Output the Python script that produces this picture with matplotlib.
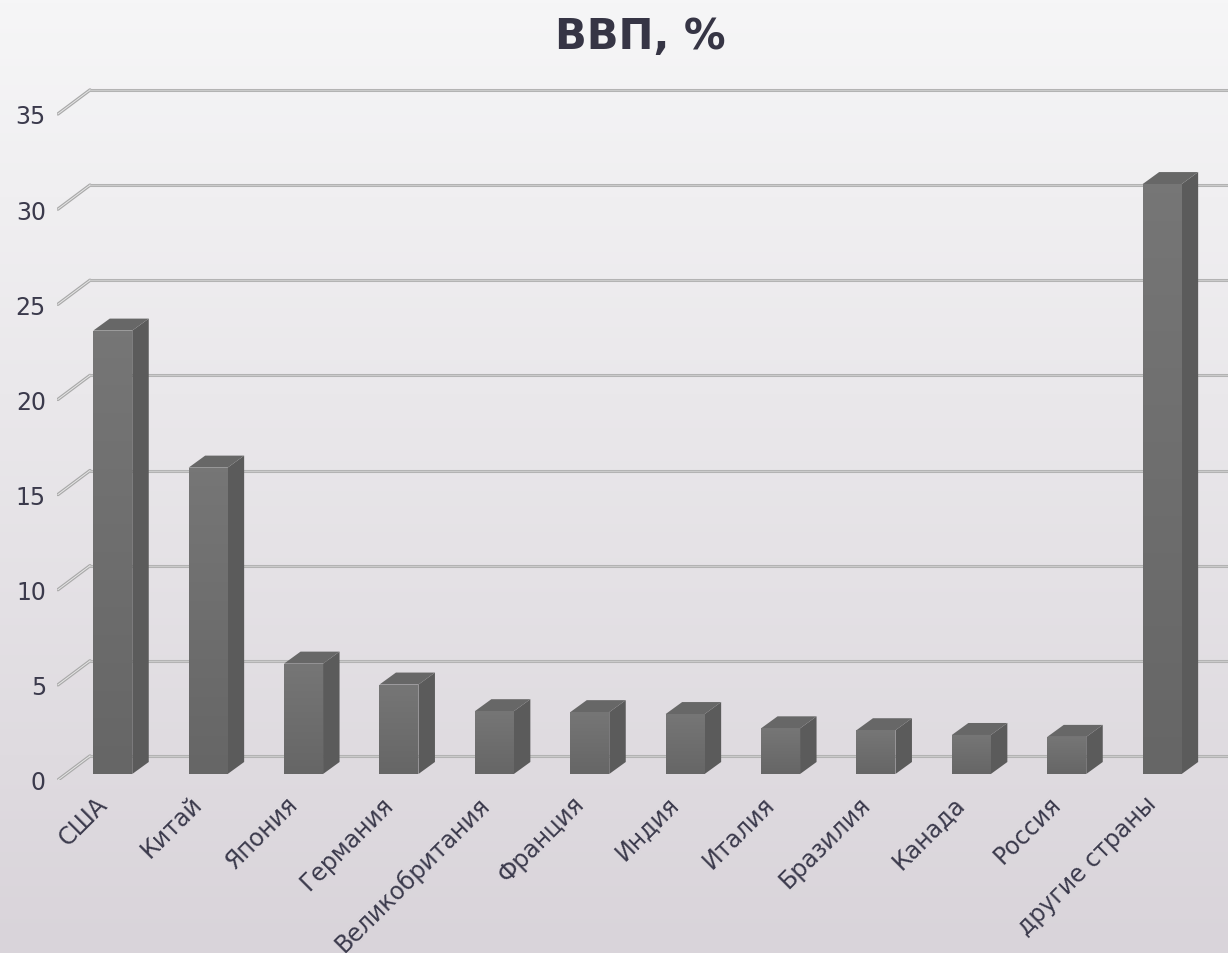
import numpy as np
import matplotlib
matplotlib.use("Agg")
import matplotlib.pyplot as plt
from matplotlib.patches import Polygon

countries = ["США", "Китай", "Япония", "Германия", "Великобритания", "Франция",
             "Индия", "Италия", "Бразилия", "Канада", "Россия", "другие страны"]
gdp_share = [23.3, 16.1, 5.8, 4.7, 3.3, 3.25, 3.15, 2.4, 2.3, 2.05, 1.95, 31.0]
y_ticks = [0, 5, 10, 15, 20, 25, 30, 35]

W, H = 1228, 954
fig = plt.figure(figsize=(W / 100, H / 100), dpi=100)

# background gradient
bg = fig.add_axes([0, 0, 1, 1], zorder=-10)
grad = np.linspace(0, 1, 256).reshape(-1, 1)
top_c = np.array([246, 246, 247]) / 255
bot_c = np.array([217, 212, 218]) / 255
img = top_c[None, None, :] * (1 - grad[:, :, None]) + bot_c[None, None, :] * grad[:, :, None]
bg.imshow(img, aspect="auto", extent=[0, 1, 0, 1])
bg.axis("off")

# plot area (front wall plane)
px_per_cat = 95.4
px_per_val = 19.03
ax_l, ax_b, ax_w, ax_h = 57, 173, 1171, 701
ax = fig.add_axes([ax_l / W, ax_b / H, ax_w / W, ax_h / H])
ax.patch.set_alpha(0)
xmin = -(104.5 - 57) / px_per_cat
xmax = xmin + ax_w / px_per_cat
for s in ax.spines.values():
    s.set_visible(False)

DX = 33 / px_per_cat
DY = 24 / px_per_val


def proj(x, y, d):
    return (x + d * DX, y + d * DY)


# gridlines: diagonal on side + back wall horizontal
for v in y_ticks:
    ax.plot([xmin + 0.01, xmin + DX], [v, v + DY], color="#a9a9a9", lw=2.4,
            solid_capstyle="round", zorder=1)
    ax.plot([xmin + 0.01, xmin + DX], [v, v + DY], color="#e6e6e6", lw=0.7, zorder=1.1)
    ax.plot([xmin + DX, xmax], [v + DY, v + DY], color="#b3b3b3", lw=2.2, zorder=1)
    ax.plot([xmin + DX, xmax], [v + DY, v + DY], color="#cfcfcf", lw=0.6, zorder=1.1)

# bars
bw = 39 / px_per_cat
d0, d1 = 0.25, 0.75
for i, v in enumerate(gdp_share):
    x0 = i - bw / 2
    x1 = i + bw / 2
    front = [proj(x0, 0, d0), proj(x1, 0, d0), proj(x1, v, d0), proj(x0, v, d0)]
    side = [proj(x1, 0, d0), proj(x1, 0, d1), proj(x1, v, d1), proj(x1, v, d0)]
    top = [proj(x0, v, d0), proj(x1, v, d0), proj(x1, v, d1), proj(x0, v, d1)]
    ax.add_patch(Polygon(side, closed=True, facecolor="#5b5b5b", edgecolor="none", zorder=3))
    ax.add_patch(Polygon(top, closed=True, facecolor="#676767", edgecolor="none", zorder=3))
    fp = Polygon(front, closed=True, facecolor="none", edgecolor="none", zorder=3)
    ax.add_patch(fp)
    fx0, fy0 = proj(x0, 0, d0)
    fx1, fy1 = proj(x1, v, d0)
    g = np.linspace(0, 1, 64).reshape(-1, 1)
    c_top = np.array([118, 118, 118]) / 255
    c_bot = np.array([102, 102, 102]) / 255
    gi = c_top[None, None, :] * (1 - g[:, :, None]) + c_bot[None, None, :] * g[:, :, None]
    im = ax.imshow(gi, aspect="auto", extent=[fx0, fx1, fy0, fy1], zorder=3.5)
    im.set_clip_path(fp)

ax.set_xlim(xmin, xmax)
ax.set_ylim(0, ax_h / px_per_val)

label_col = "#3b3a4c"
ax.set_yticks(y_ticks)
ax.set_yticklabels([str(t) for t in y_ticks], fontsize=17, color=label_col)
ax.tick_params(axis="y", length=0, pad=8)
ax.set_xticks([i + d0 * DX - 18 / px_per_cat for i in range(len(countries))])
ax.set_xticklabels(countries, rotation=45, ha="right", va="top",
                   rotation_mode="anchor", fontsize=17, color=label_col)
ax.tick_params(axis="x", length=0, pad=8)

fig.text(640 / W, 1 - 37 / H, "ВВП, %", ha="center", va="center",
         fontsize=30, fontweight="bold", color="#363545")

fig.savefig("out.png", dpi=100)
